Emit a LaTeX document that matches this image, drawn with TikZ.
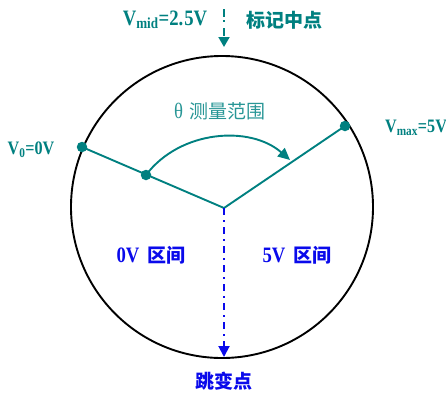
\documentclass[tikz,border=0pt]{standalone}
\usepackage{fontspec}
\setmainfont{Liberation Serif}[FakeStretch=0.85]
\newfontfamily\cjk{Noto Sans CJK SC}
\usetikzlibrary{arrows.meta}
\definecolor{tealc}{RGB}{0,128,128}
\definecolor{tealL}{RGB}{40,150,150}
\definecolor{bluec}{RGB}{10,10,235}
\newcommand{\cj}[1]{{\cjk\fontsize{19}{19}\selectfont #1}}
\tikzset{
  dotc/.style={circle,fill=tealc,inner sep=0pt,minimum size=10.5pt},
  tl/.style={text=tealc,font=\bfseries\fontsize{22}{22}\selectfont,inner sep=0pt,anchor=center},
  bl/.style={text=bluec,font=\bfseries\fontsize{22}{22}\selectfont,inner sep=0pt,anchor=center},
  tealline/.style={draw=tealc,line width=1.9pt},
}
\begin{document}
\begin{tikzpicture}[x=1pt,y=-1pt]
\useasboundingbox (0,0) rectangle (446,394);
\coordinate (C) at (222,207);
\draw[line width=1.9pt] (C) circle (151);
\coordinate (J) at (224,208);
\node[dotc] (P0) at (82,147) {};
\node[dotc] (PM) at (146,175) {};
\node[dotc] (PX) at (345,126) {};
\draw[tealline] (P0.center) -- (J) -- (PX.center);
\coordinate (AT) at (290,160);
\draw[tealline,-{Triangle[length=12pt,width=11pt]}] (PM.center) .. controls (180,130) and (250,125) .. (AT);
\coordinate (T0) at (224,9);
\coordinate (T1) at (224,47);
\draw[tealc,line width=1.9pt,dash pattern=on 8pt off 3pt on 2pt off 6pt,-{Triangle[length=10pt,width=11pt]}] (T0) -- (T1);
\coordinate (B1) at (224,357);
\draw[draw=bluec,line width=1.9pt,dash pattern=on 7pt off 5pt on 2pt off 5pt,-{Triangle[length=11pt,width=11pt]}] (J) -- (B1);
\node[tl] (vmid) at (165,20) {V\textsubscript{mid}=2.\kern1pt5V};
\node[tl] (mark) at (284,20) {\cj{标记中点}};
\node[tl,text=tealL,font=\fontsize{22}{22}\selectfont] (theta) at (220,111) {θ\hspace{7pt}\cj{测量范围}};
\node[tl,font=\bfseries\fontsize{19}{19}\selectfont] (v0) at (31,150) {V\textsubscript{0}=0V};
\node[tl,font=\bfseries\fontsize{19}{19}\selectfont] (vmax) at (416,128) {V\textsubscript{max}=5V};
\node[bl] (z0) at (151,255) {0V\hspace{8pt}\cj{区间}};
\node[bl] (z5) at (297,255) {5V\hspace{8pt}\cj{区间}};
\node[bl] (jump) at (224,381) {\cj{跳变点}};
\end{tikzpicture}
\end{document}
